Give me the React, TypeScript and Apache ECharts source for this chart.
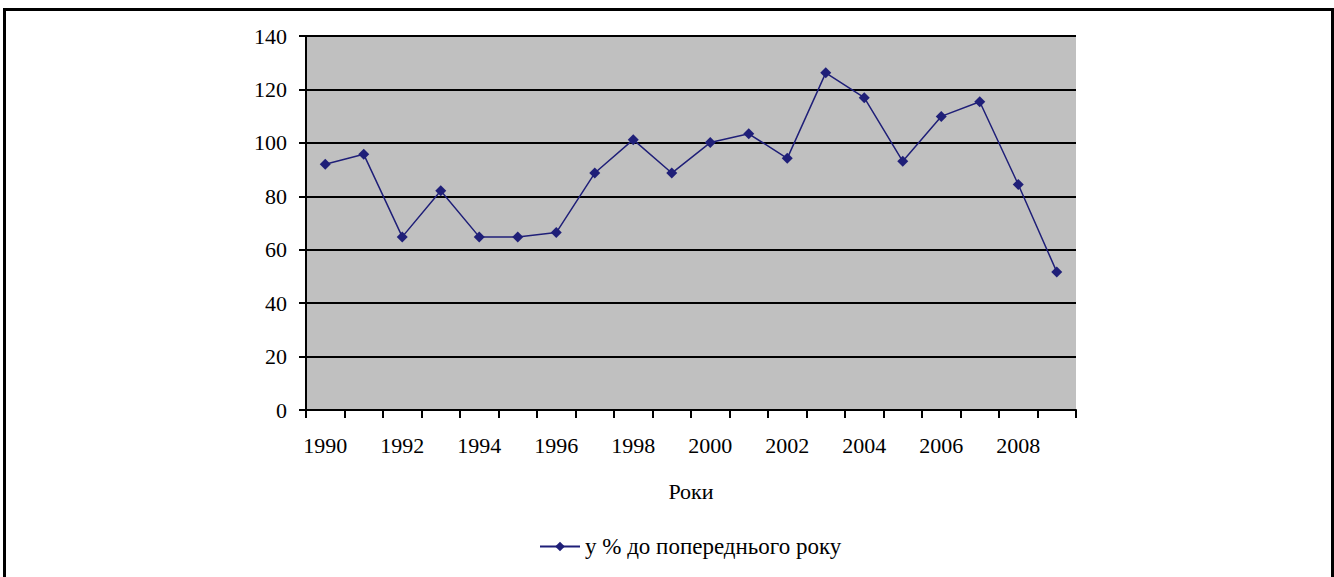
import React, { useEffect, useRef } from "react";
import * as echarts from "echarts";

const years = ["1990","1991","1992","1993","1994","1995","1996","1997","1998","1999","2000","2001","2002","2003","2004","2005","2006","2007","2008","2009"];
const values = [92, 95.7, 64.8, 82.1, 64.8, 64.8, 66.4, 88.7, 101.2, 88.7, 100.1, 103.4, 94.2, 126.2, 116.9, 93.1, 109.9, 115.4, 84.4, 51.7];
const seriesName = "у % до попереднього року";
const axisTitle = "Роки";

export default function App() {
  const ref = useRef<HTMLDivElement>(null);
  useEffect(() => {
    if (!ref.current) return;
    const chart = echarts.init(ref.current, null, { renderer: "svg" });
    const font = "'Liberation Serif', 'Times New Roman', serif";
    chart.setOption({
      animation: false,
      backgroundColor: "#ffffff",
      textStyle: { fontFamily: font },
      graphic: [
        {
          type: "rect",
          shape: { x: 4.5, y: 9.5, width: 1328, height: 600 },
          style: { fill: "none", stroke: "#000", lineWidth: 3 },
          silent: true,
        },
      ],
      grid: { left: 306, top: 36, right: 258, bottom: 167, show: true, backgroundColor: "#c0c0c0", borderWidth: 0 },
      xAxis: {
        type: "category",
        data: years,
        boundaryGap: true,
        name: axisTitle,
        nameLocation: "middle",
        nameGap: 70,
        nameTextStyle: { fontFamily: font, fontSize: 22, color: "#000" },
        axisLine: { lineStyle: { color: "#000", width: 2 } },
        axisTick: { show: true, interval: 0, length: 8, lineStyle: { color: "#000", width: 2 } },
        axisLabel: { interval: 1, margin: 24, fontFamily: font, fontSize: 22, color: "#000" },
        splitLine: { show: false },
      },
      yAxis: {
        type: "value",
        min: 0,
        max: 140,
        interval: 20,
        axisLine: { show: true, lineStyle: { color: "#000", width: 2 } },
        axisTick: { show: true, length: 7, lineStyle: { color: "#000", width: 2 } },
        axisLabel: { margin: 19, fontFamily: font, fontSize: 22, color: "#000" },
        splitLine: { show: true, lineStyle: { color: "#000", width: 2 } },
      },
      legend: {
        bottom: 14,
        left: 534,
        itemWidth: 40,
        itemHeight: 12,
        itemGap: 6,
        textStyle: { fontFamily: font, fontSize: 23, color: "#000" },
        data: [seriesName],
      },
      series: [
        {
          name: seriesName,
          type: "line",
          data: values,
          symbol: "diamond",
          symbolSize: 11,
          itemStyle: { color: "#1f1f78" },
          lineStyle: { color: "#1f1f78", width: 1.5 },
        },
      ],
    });
    return () => chart.dispose();
  }, []);
  return <div ref={ref} style={{ position: "fixed", left: 0, top: 0, width: 1334, height: 577 }} />;
}
